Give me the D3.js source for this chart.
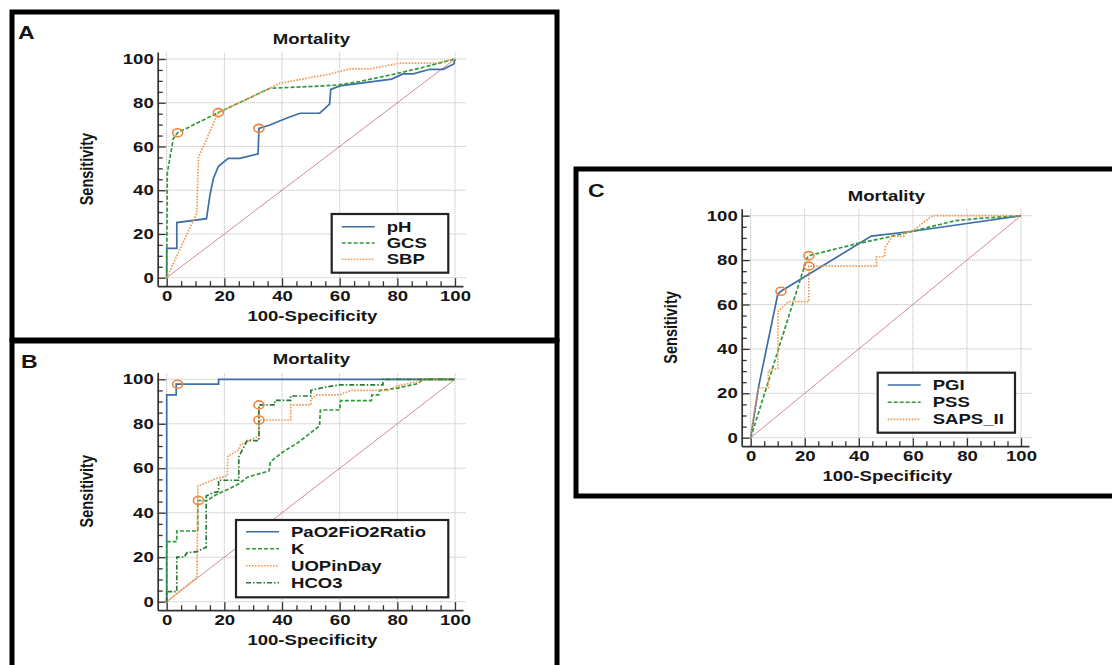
<!DOCTYPE html>
<html>
<head>
<meta charset="utf-8">
<script src="https://cdn.jsdelivr.net/npm/d3@7"></script>
<style>
  body { margin: 0; background: #fff; }
  text { font-family: "Liberation Sans", Arial, sans-serif; font-weight: bold; fill: #151515; }
</style>
</head>
<body>
<svg id="chart" width="1112" height="665"></svg>
<script>
// ROC points: [100-Specificity, Sensitivity]
var pH  = [[0,0],[0,13.4],[3.5,13.4],[3.5,25.2],[13.8,27],[15,37.8],[16.2,45.4],[17.9,50.8],[21.3,54.6],[25.4,54.6],[31.7,56.6],[32,68.3],[35.8,69.8],[41.5,72.9],[46.2,75.2],[53.1,75.2],[56.5,79.4],[56.9,86.1],[60.1,87.7],[78,90.8],[82,93.2],[85.5,93.2],[91.3,95.3],[95.9,95.3],[99.6,97.7],[100,100]];
var GCS = [[0,0],[0.2,47.7],[2.3,63.7],[3.8,66.3],[17.9,75.5],[35.8,86.6],[53,87.6],[60,88.2],[67,89.7],[78,92.8],[87.8,95.8],[100,100]];
var SBP = [[0,0],[10.4,29.4],[11,55],[17.9,75.5],[35.8,86.6],[39.2,88.9],[56.5,93.1],[63.6,95.5],[70.5,95.5],[80.9,98.1],[93.6,98.1],[100,100]];

var PaO2FiO2Ratio = [[0,0],[0,93],[3.3,93],[3.3,97.8],[18,97.8],[18,100],[100,100]];
var K = [[0,0],[0,27],[3.5,27],[3.5,31.8],[10.8,31.8],[10.8,45.5],[14,45.5],[17,48],[22,51],[25,53],[28,56],[32,57.5],[35.5,58.8],[36,63],[40.5,67.5],[45.5,71.5],[53,79],[53.3,86.2],[60,86.2],[60.3,90.4],[71,90.4],[71.2,93],[73.5,93],[73.8,95],[80,96],[85,97.5],[87,98],[89,100],[100,100]];
var UOPinDay = [[0,0],[10.5,11],[10.8,52],[17.4,55.5],[21,56.5],[21.2,65.5],[25,68.2],[25.6,70.5],[29,72.7],[32,74.5],[32,81.7],[43,81.7],[43,88.5],[50,88.5],[50,91],[52,93],[60,93],[64,95],[77,95],[80,97],[87,99],[90,100],[100,100]];
var HCO3 = [[0,0],[0,4.5],[3.5,4.5],[3.5,20],[6,20],[7,22],[10.5,22.5],[13.7,24.5],[13.7,47.5],[16,49],[18,49.5],[18,54.6],[25,54.6],[25,65.2],[26.2,68.2],[27.9,72.4],[32,72.4],[32,88.5],[37.5,88.5],[37.5,90.5],[43,90.5],[43,92.5],[50,92.5],[50,95],[55,96.5],[60,97.5],[75,97.5],[75,100],[100,100]];

var PGI = [[0,0],[3,23.5],[10,64.5],[11.2,66],[44.6,90.8],[60,93],[80,96.5],[100,100]];
var PSS = [[0,0],[20.8,80.8],[21.5,82],[39.7,87.5],[49.6,90],[60,93],[75.4,97.7],[84.6,98.8],[100,100]];
var SAPS_II = [[0,0],[0.6,6],[2.8,22.5],[6.5,22.5],[6.5,30.2],[10,31.2],[10.2,57],[13.9,61.3],[21.5,61.3],[21.5,77.3],[46.5,77.3],[46.5,81.5],[49.5,81.5],[49.8,86],[52.4,90.8],[56.7,90.8],[57,92.5],[60,93.2],[64,97],[67.3,100],[100,100]];

// optimal criterion markers
var cutA = [[3.8,66.3],[17.9,75.5],[32,68.3]];
var cutB = [[3.8,97.8],[11,45.5],[32,88.5],[32,81.7]];
var cutC = [[11.2,66],[21.5,82],[21.5,77.3]];

var ticksMajor = [0, 20, 40, 60, 80, 100];
var ticksMinor = d3.range(0, 101, 5).filter(function(v) { return v % 20 !== 0; });

var styles = {
  solid:   { color: '#3e6ea6', dash: null },
  dashed:  { color: '#2f9a3a', dash: '4,2' },
  dotted:  { color: '#f3994f', dash: '1.6,1.4' },
  dashdot: { color: '#2b7a34', dash: '5,2,1.5,2' }
};

var SX = 1.28; // the figure is stretched horizontally
var FS = 14.5;
var svg = d3.select('#chart');

function label(g, txt, x, y, size, anchor, rot) {
  g.append('text')
    .attr('transform', 'translate(' + x + ',' + y + ') scale(' + SX + ',1)' + (rot ? ' rotate(' + rot + ')' : ''))
    .attr('text-anchor', anchor)
    .attr('font-size', size)
    .text(txt);
}

function panel(p) {
  var g = svg.append('g');
  var x = d3.scaleLinear().domain([0, 100]).range([p.x0, p.x100]);
  var y = d3.scaleLinear().domain([0, 100]).range([p.y0, p.y100]);
  var gap = 8.5;
  var axX = p.x0 - gap - 0.5, axY = p.y0 + gap;
  var xa = d3.scaleLinear().domain([x.invert(axX), x.invert(p.x100 + 8)]).range([axX, p.x100 + 8]);
  var ya = d3.scaleLinear().domain([y.invert(axY), y.invert(p.y100 - 7)]).range([axY, p.y100 - 7]);

  // grid
  g.append('g').selectAll('line').data(ticksMajor).enter().append('line')
    .attr('x1', axX).attr('x2', xa.range()[1] + 3)
    .attr('y1', function(d) { return y(d); }).attr('y2', function(d) { return y(d); })
    .attr('stroke', '#b4b4b4').attr('stroke-dasharray', '1,1');
  g.append('g').selectAll('line').data(ticksMajor).enter().append('line')
    .attr('y1', axY).attr('y2', ya.range()[1])
    .attr('x1', function(d) { return x(d); }).attr('x2', function(d) { return x(d); })
    .attr('stroke', '#b4b4b4').attr('stroke-dasharray', '1,1');

  // axes, ticks pointing inward
  var gy = g.append('g').attr('transform', 'translate(' + axX + ',0)')
    .call(d3.axisLeft(ya).tickValues(ticksMajor).tickSizeInner(-8).tickSizeOuter(0).tickPadding(4));
  g.append('g').attr('transform', 'translate(' + axX + ',0)')
    .call(d3.axisLeft(ya).tickValues(ticksMinor).tickSizeInner(-5).tickSizeOuter(0).tickFormat(''))
    .select('.domain').remove();
  var gx = g.append('g').attr('transform', 'translate(0,' + axY + ')')
    .call(d3.axisBottom(xa).tickValues(ticksMajor).tickSizeInner(-8).tickSizeOuter(0).tickPadding(5));
  g.append('g').attr('transform', 'translate(0,' + axY + ')')
    .call(d3.axisBottom(xa).tickValues(ticksMinor).tickSizeInner(-5).tickSizeOuter(0).tickFormat(''))
    .select('.domain').remove();
  g.selectAll('.domain').attr('stroke', '#333').attr('stroke-width', 1.7);
  g.selectAll('.tick line').attr('stroke', '#333').attr('stroke-width', 1.3);
  g.selectAll('.tick text').attr('font-size', FS).attr('font-family', '"Liberation Sans", Arial, sans-serif')
    .attr('font-weight', 'bold').attr('fill', '#151515');
  gy.selectAll('.tick text').attr('transform', 'scale(' + SX + ',1)').attr('x', -4 / SX);
  gx.selectAll('.tick text').attr('transform', 'scale(' + SX + ',1)');

  // diagonal reference
  g.append('line')
    .attr('x1', x(0)).attr('y1', y(0)).attr('x2', x(100)).attr('y2', y(100))
    .attr('stroke', '#c98080').attr('stroke-width', 0.9);

  var line = d3.line().x(function(d) { return x(d[0]); }).y(function(d) { return y(d[1]); });
  p.series.forEach(function(s) {
    var st = styles[s.style];
    g.append('path').datum(s.data).attr('d', line)
      .attr('fill', 'none').attr('stroke', st.color).attr('stroke-width', 1.7)
      .attr('stroke-dasharray', st.dash);
  });

  g.append('g').selectAll('ellipse').data(p.cuts).enter().append('ellipse')
    .attr('cx', function(d) { return x(d[0]); }).attr('cy', function(d) { return y(d[1]); })
    .attr('rx', 5).attr('ry', 4)
    .attr('fill', 'none').attr('stroke', '#f0843a').attr('stroke-width', 1.6);

  // texts
  var midX = (xa.range()[0] + xa.range()[1]) / 2;
  label(g, 'Mortality', midX + 1, p.y100 - 15, FS, 'middle');
  label(g, '100-Specificity', midX + 2, axY + 35, FS, 'middle');
  label(g, 'Sensitivity', axX - 65, (ya.range()[0] + ya.range()[1]) / 2, FS, 'middle', -90);
  label(g, p.letter, p.lx, p.ly, 18, 'start');

  // legend
  var lg = g.append('g');
  lg.append('rect').attr('x', p.leg[0]).attr('y', p.leg[1]).attr('width', p.leg[2]).attr('height', p.leg[3])
    .attr('fill', '#fff').attr('stroke', '#222').attr('stroke-width', 2.2);
  p.series.forEach(function(s, i) {
    var st = styles[s.style];
    var ry = p.leg[1] + p.legTop + i * p.legStep;
    lg.append('line').attr('x1', p.leg[0] + 10).attr('x2', p.leg[0] + 43)
      .attr('y1', ry).attr('y2', ry)
      .attr('stroke', st.color).attr('stroke-width', 1.6).attr('stroke-dasharray', st.dash);
    label(lg, s.name, p.leg[0] + 55, ry + 5, FS, 'start');
  });
}

// frames
[[12, 12, 545, 328], [12, 341, 545, 400], [576, 169, 560, 327]].forEach(function(r) {
  svg.append('rect').attr('x', r[0]).attr('y', r[1]).attr('width', r[2]).attr('height', r[3])
    .attr('fill', 'none').attr('stroke', '#000').attr('stroke-width', 5);
});

panel({
  x0: 166.7, x100: 455, y0: 277.7, y100: 59, letter: 'A', lx: 18, ly: 39,
  leg: [331.7, 214, 116.6, 58.7], legTop: 12.7, legStep: 16.3,
  series: [{ name: 'pH', data: pH, style: 'solid' }, { name: 'GCS', data: GCS, style: 'dashed' }, { name: 'SBP', data: SBP, style: 'dotted' }],
  cuts: cutA
});
panel({
  x0: 166.7, x100: 455, y0: 601.7, y100: 379.3, letter: 'B', lx: 21, ly: 368,
  leg: [236, 520, 212.3, 77.3], legTop: 11.7, legStep: 17,
  series: [{ name: 'PaO2FiO2Ratio', data: PaO2FiO2Ratio, style: 'solid' }, { name: 'K', data: K, style: 'dashed' },
           { name: 'UOPinDay', data: UOPinDay, style: 'dotted' }, { name: 'HCO3', data: HCO3, style: 'dashdot' }],
  cuts: cutB
});
panel({
  x0: 750.7, x100: 1021, y0: 437.7, y100: 215.7, letter: 'C', lx: 588, ly: 197,
  leg: [877.7, 372.7, 137.3, 60], legTop: 12.3, legStep: 17.2,
  series: [{ name: 'PGI', data: PGI, style: 'solid' }, { name: 'PSS', data: PSS, style: 'dashed' }, { name: 'SAPS_II', data: SAPS_II, style: 'dotted' }],
  cuts: cutC
});
</script>
</body>
</html>
